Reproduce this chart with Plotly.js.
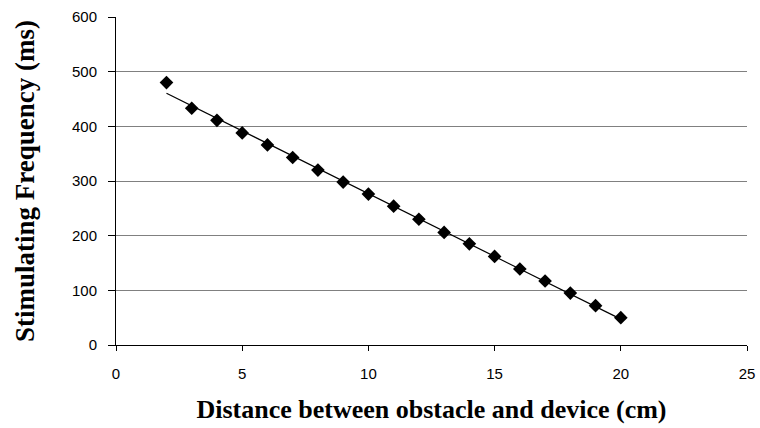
<!DOCTYPE html>
<html><head><meta charset="utf-8">
<script src="https://cdn.plot.ly/plotly-3.0.1.min.js"></script>
<style>html,body{margin:0;padding:0;background:#fff}</style>
</head><body>
<div id="chart" style="width:760px;height:428px"></div>
<script>
const distance = [2,3,4,5,6,7,8,9,10,11,12,13,14,15,16,17,18,19,20];
const frequency = [480,433,411,388,366,343,320,298,276,254,230,206,185,162,139,117,95,72,50];
const xTicks = [0,5,10,15,20,25];
const yTicks = [0,100,200,300,400,500,600];

// Linear trendline (least squares) as drawn by the spreadsheet
const n = distance.length;
const mx = distance.reduce((a,b)=>a+b,0)/n;
const my = frequency.reduce((a,b)=>a+b,0)/n;
let sxy=0, sxx=0;
for (let i=0;i<n;i++){sxy+=(distance[i]-mx)*(frequency[i]-my);sxx+=(distance[i]-mx)**2;}
const slope = sxy/sxx, icpt = my - slope*mx;
const trendX = [distance[0], distance[n-1]];
const trendY = trendX.map(x=>icpt+slope*x);

const traces = [
  {x: trendX, y: trendY, mode:'lines', line:{color:'#000', width:1.2}, hoverinfo:'skip', showlegend:false},
  {x: distance, y: frequency, mode:'markers', marker:{symbol:'diamond', size:10.5, color:'#000'}, showlegend:false}
];
const layout = {
  width:760, height:428,
  margin:{l:116, r:13, t:17, b:83},
  paper_bgcolor:'#fff', plot_bgcolor:'#fff',
  font:{family:'Liberation Sans, Arial, sans-serif', size:15, color:'#000'},
  xaxis:{range:[0,25], tickvals:xTicks, showgrid:false, zeroline:false, automargin:false,
    showline:true, linecolor:'#000', linewidth:1, ticks:'outside', ticklen:5, tickcolor:'#000',
    tickfont:{size:15}, ticklabelstandoff:10,
    title:{text:'Distance between obstacle and device (cm)', standoff:18,
      font:{family:'Liberation Serif, Times New Roman, serif', size:26, color:'#000', weight:'bold'}}},
  yaxis:{range:[0,600], tickvals:yTicks, showgrid:true, gridcolor:'#808080', gridwidth:1, zeroline:false, automargin:false,
    showline:true, linecolor:'#000', linewidth:1, ticks:'outside', ticklen:7, tickcolor:'#000',
    tickfont:{size:15}, ticklabelstandoff:8,
    title:{text:'Stimulating Frequency (ms)', standoff:29,
      font:{family:'Liberation Serif, Times New Roman, serif', size:27, color:'#000', weight:'bold'}}}
};
Plotly.newPlot('chart', traces, layout, {displayModeBar:false, staticPlot:true});
</script>
</body></html>
